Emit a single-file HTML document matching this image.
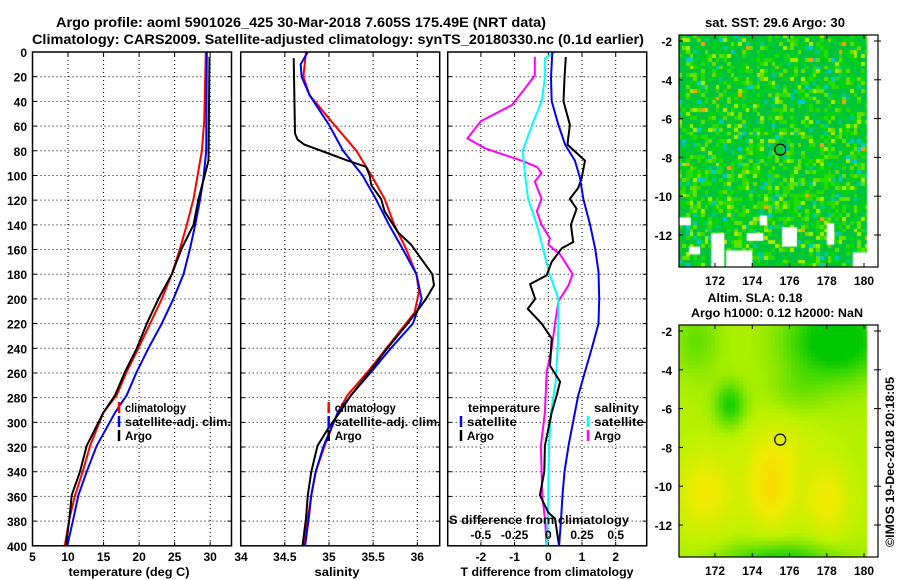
<!DOCTYPE html>
<html><head><meta charset="utf-8"><style>
html,body{margin:0;padding:0;background:#fff;}
#wrap{position:relative;width:900px;height:580px;overflow:hidden;font-family:"Liberation Sans",sans-serif;}
canvas{position:absolute;}
svg{position:absolute;left:0;top:0;}
svg text{font-family:"Liberation Sans",sans-serif;font-weight:bold;fill:#000;}
</style></head><body>
<div id="wrap">
<canvas id="sst" width="199" height="232" style="left:679px;top:35px"></canvas>
<canvas id="sla" width="199" height="232" style="left:679px;top:325px"></canvas>
<svg id="svg" width="900" height="580"></svg>
</div>
<script>
// ---------- data ----------
const tClimDepth=[0,56,80,119,140,159,180,200,220,240,259,278,292,319,340,359,378,400];
const tClimVal=[29.39,29.16,28.83,27.65,26.71,25.77,24.6,23.2,21.55,19.9,18.26,16.85,14.98,13.1,12.07,10.99,10.19,9.53];
const tSatDepth=[0,80,102,119,140,159,180,200,220,240,259,278,292,319,340,359,378,400];
const tSatVal=[29.53,29.44,29.06,28.59,27.89,27.18,26.24,24.83,23.2,21.31,19.67,18.26,16.62,14.04,12.63,11.46,10.75,9.9];
const tArgoDepth=[4,88,102,119,140,159,180,200,220,240,259,278,292,319,340,359,378,400];
const tArgoVal=[29.9,29.76,29.15,28.36,27.65,26.0,24.6,22.72,21.08,19.67,18.03,16.62,14.98,12.63,11.69,10.52,10.19,9.72];

const sClimDepth=[0,20,35,59,80,100,119,140,159,180,194,211,220,240,259,278,292,319,340,359,378,400];
const sClimVal=[34.74,34.71,34.78,35.06,35.31,35.48,35.63,35.74,35.87,35.99,36.02,35.97,35.87,35.65,35.44,35.21,35.10,34.95,34.85,34.80,34.76,34.72];
const sSatDepth=[0,10,20,35,59,80,100,119,140,159,180,200,220,240,259,278,292,319,340,359,378,400];
const sSatVal=[34.76,34.68,34.69,34.78,35.0,35.16,35.38,35.53,35.68,35.83,35.99,36.05,35.95,35.70,35.48,35.25,35.10,34.94,34.85,34.80,34.77,34.73];
const sArgoDepth=[5,66,71,75,81,88,93,100,108,119,129,146,156,167,180,189,200,220,240,259,278,292,305,319,340,359,378,400];
const sArgoVal=[34.60,34.615,34.645,34.72,34.95,35.21,35.42,35.46,35.48,35.59,35.63,35.78,35.93,36.04,36.17,36.19,36.10,35.89,35.66,35.46,35.25,35.12,34.99,34.87,34.80,34.76,34.74,34.70];

const dTSatDepth=[0,21,40,59,75,88,102,119,140,159,178,200,220,240,259,278,292,319,340,359,378,400];
const dTSatVal=[0.12,0.08,0.10,0.30,0.50,0.79,0.94,1.04,1.24,1.39,1.49,1.51,1.49,1.29,1.09,0.89,0.79,0.60,0.48,0.42,0.38,0.32];
const dTArgoDepth=[4,21,40,59,70,75,88,102,110,119,127,140,154,159,170,181,188,200,208,220,232,254,267,278,292,319,340,359,373,378,400];
const dTArgoVal=[0.52,0.48,0.45,0.64,0.59,0.57,1.09,0.99,0.89,0.64,0.84,0.67,0.74,0.40,0.10,-0.05,-0.54,-0.39,-0.61,-0.20,0.10,0.05,0.35,0.25,0.10,-0.10,-0.12,-0.25,0.00,0.20,0.32];
const dSSatDepth=[0,5,21,40,59,80,102,119,140,159,180,200,220,240,267,292,319,359,400];
const dSSatVal=[0.05,-0.025,-0.025,-0.05,-0.12,-0.19,-0.17,-0.15,-0.085,-0.04,0.01,0.075,0.075,0.07,0.055,0.02,0.005,0,-0.01];
const dSArgoDepth=[4,19,29,43,56,70,78,88,93,98,105,119,129,140,151,156,164,180,189,202,220,240,259,292,319,359,378,400];
const dSArgoVal=[-0.10,-0.10,-0.17,-0.27,-0.50,-0.60,-0.47,-0.20,-0.085,-0.05,-0.10,-0.05,-0.085,-0.05,0.012,0,0.088,0.18,0.15,0.075,0.05,0.025,-0.012,-0.025,-0.055,-0.045,-0.025,-0.012];

const depthTicks=[0,20,40,60,80,100,120,140,160,180,200,220,240,260,280,300,320,340,360,380,400];
const tTicks=[5,10,15,20,25,30];
const sTicks=[34,34.5,35,35.5,36];
const dTTicks=[-2,-1,0,1,2];
const dSTicks=[-0.5,-0.25,0,0.25,0.5];
const dSTickLabels=["-0.5","-0.25","0","0.25","0.5"];
const latTicks=[-2,-4,-6,-8,-10,-12];
const lonTicks=[172,174,176,178,180];
const argoLon=175.5, argoLat=-7.6;

// ---------- helpers ----------
const NS="http://www.w3.org/2000/svg";
const svg=document.getElementById('svg');
function el(tag,attrs,parent){const e=document.createElementNS(NS,tag);for(const k in attrs)e.setAttribute(k,attrs[k]);(parent||svg).appendChild(e);return e;}
function txt(s,x,y,size,anchor,parent,len){const t=el('text',{x:x,y:y,'font-size':size,'text-anchor':anchor||'start'},parent);if(len){t.setAttribute('textLength',len);t.setAttribute('lengthAdjust','spacingAndGlyphs');}t.textContent=s;return t;}
const yD=d=>52+d*1.2345;
const YB=yD(400);

function panel(name,x0,x1,scale,gridVals){
  const g=el('g',{});
  
  
  gridVals.forEach(v=>{const x=scale(v);el('line',{x1:x,y1:52,x2:x,y2:YB,stroke:'#000','stroke-width':1,'stroke-dasharray':'1,3'},g);});
  depthTicks.slice(1,-1).forEach(d=>{el('line',{x1:x0,y1:yD(d),x2:x1,y2:yD(d),stroke:'#000','stroke-width':1,'stroke-dasharray':'1,3'},g);
    el('line',{x1:x0,y1:yD(d),x2:x0+4,y2:yD(d),stroke:'#000'},g);el('line',{x1:x1-4,y1:yD(d),x2:x1,y2:yD(d),stroke:'#000'},g);});
  gridVals.forEach(v=>{const x=scale(v);el('line',{x1:x,y1:52,x2:x,y2:56,stroke:'#000'},g);el('line',{x1:x,y1:YB-4,x2:x,y2:YB,stroke:'#000'},g);});
  return g;
}
function frame(name,x0,x1){const r=el('rect',{x:x0,y:52,width:x1-x0,height:YB-52,fill:'none',stroke:'#000','stroke-width':1.5});}
function series(name,depths,vals,scale,color,w){
  const pts=depths.map((d,i)=>scale(vals[i]).toFixed(1)+','+yD(d).toFixed(1)).join(' ');
  const p=el('polyline',{points:pts,fill:'none',stroke:color,'stroke-width':w||2,'stroke-linejoin':'round'});
  
  
}
function legendEntry(name,x,y,color,label,len){
  const g=el('g',{});
  
  
  if(color)el('line',{x1:x,y1:y-10,x2:x,y2:y+1,stroke:color,'stroke-width':2.5},g);
  txt(label,x+6,y,12,'start',g,len);
}

// titles
const t1=txt("Argo profile: aoml 5901026_425 30-Mar-2018 7.605S 175.49E (NRT data)",301,27,14,'middle',null,490);

const t2=txt("Climatology: CARS2009. Satellite-adjusted climatology: synTS_20180330.nc (0.1d earlier)",338,44,14,'middle',null,612);


// y tick labels
const yl=el('g',{});
depthTicks.forEach(d=>txt(String(d),27,yD(d)+5,12,'end',yl));

// Panel 1 temperature
const P1={x0:32.5,x1:231.5,lo:5,hi:33};
const xT=v=>P1.x0+(v-P1.lo)/(P1.hi-P1.lo)*(P1.x1-P1.x0);
panel('temperature-panel-grid',P1.x0,P1.x1,xT,[10,15,20,25,30]);
series('temp-climatology-line',tClimDepth,tClimVal,xT,'#f00');
series('temp-satellite-adj-line',tSatDepth,tSatVal,xT,'#00f');
series('temp-argo-line',tArgoDepth,tArgoVal,xT,'#000');
frame('temperature-panel-frame',P1.x0,P1.x1);
const xl1=el('g',{});
tTicks.forEach(v=>txt(String(v),xT(v),561,12,'middle',xl1));
const xt1=txt("temperature (deg C)",129,576,12,'middle',null,121);
legendEntry('legend-climatology',119,412,'#f00','climatology',61);
legendEntry('legend-satellite-adj-clim',119,426,'#00f','satellite-adj. clim.',106);
legendEntry('legend-argo',119,440,'#000','Argo',27);

// Panel 2 salinity
const P2={x0:240.7,x1:439.7,lo:34,hi:36.254};
const xS=v=>P2.x0+(v-P2.lo)/(P2.hi-P2.lo)*(P2.x1-P2.x0);
panel('salinity-panel-grid',P2.x0,P2.x1,xS,[34.5,35,35.5,36]);
series('sal-climatology-line',sClimDepth,sClimVal,xS,'#f00');
series('sal-satellite-adj-line',sSatDepth,sSatVal,xS,'#00f');
series('sal-argo-line',sArgoDepth,sArgoVal,xS,'#000');
frame('salinity-panel-frame',P2.x0,P2.x1);
const xl2=el('g',{});
sTicks.forEach(v=>txt(String(v),v===34?241:xS(v),561,12,'middle',xl2));
const xt2=txt("salinity",337,576,12,'middle',null,45);
legendEntry('legend-sal-climatology',328.7,412,'#f00','climatology',61);
legendEntry('legend-sal-satellite-adj-clim',328.7,426,'#00f','satellite-adj. clim.',106);
legendEntry('legend-sal-argo',328.7,440,'#000','Argo',27);

// Panel 3 differences
const P3={x0:447.7,x1:646.7,c:548.3,k:33.7};
const xDT=v=>P3.c+v*P3.k;
const xDS=v=>P3.c+v*4*P3.k;
panel('difference-panel-grid',P3.x0,P3.x1,xDT,[-2,-1,0,1,2]);
series('dS-argo-line',dSArgoDepth,dSArgoVal,xDS,'#f0f');
series('dS-satellite-line',dSSatDepth,dSSatVal,xDS,'#0ff');
series('dT-argo-line',dTArgoDepth,dTArgoVal,xDT,'#000');
series('dT-satellite-line',dTSatDepth,dTSatVal,xDT,'#00f');
frame('difference-panel-frame',P3.x0,P3.x1);
const xl3=el('g',{});
dTTicks.forEach(v=>txt(String(v),xDT(v),561,12,'middle',xl3));
const xt3=txt("T difference from climatology",547,576,12,'middle',null,173);
const sl=el('g',{});
txt("S difference from climatology",449,524,12,'start',sl,180);
dSTicks.forEach((v,i)=>txt(dSTickLabels[i],xDS(v),539,12,'middle',sl));
legendEntry('legend-temperature-header',462,412,null,'temperature',72);
legendEntry('legend-dT-satellite',461,426,'#00f','satellite',50);
legendEntry('legend-dT-argo',461,440,'#000','Argo',27);
legendEntry('legend-salinity-header',588,412,null,'salinity',45);
legendEntry('legend-dS-satellite',588,426,'#0ff','satellite',50);
legendEntry('legend-dS-argo',588,440,'#f0f','Argo',27);

// ---------- maps ----------
const M={x0:679,x1:878,lon0:170.07,lonK:18.625,latK:19.4};
const mx=lon=>715+(lon-172)*M.lonK;
function mapAxes(name,top,lat2y){
  const g=el('g',{});
  el('rect',{x:M.x0,y:top,width:M.x1-M.x0,height:232,fill:'none',stroke:'#000','stroke-width':1.2},g);
  latTicks.forEach(l=>{const y=lat2y(l);txt(String(l),672,y+5,12,'end',g);
    el('line',{x1:M.x0,y1:y,x2:M.x0+4,y2:y,stroke:'#000'},g);el('line',{x1:M.x1-4,y1:y,x2:M.x1+3,y2:y,stroke:'#000'},g);});
  lonTicks.forEach(l=>{const x=mx(l);txt(String(l),x,top+250,12,'middle',g);
    el('line',{x1:x,y1:top,x2:x,y2:top+4,stroke:'#000'},g);el('line',{x1:x,y1:top+232-4,x2:x,y2:top+232,stroke:'#000'},g);});
  const y=lat2y(argoLat);
  el('circle',{cx:mx(argoLon),cy:y,r:5.5,fill:'none',stroke:'#000','stroke-width':1.2},g);
  return g;
}
const y1=lat=>41+(-2-lat)*M.latK;
const y2=lat=>331+(-2-lat)*M.latK;
mapAxes('sst-map-axes',35,y1);
mapAxes('sla-map-axes',325,y2);
const mt1=txt("sat. SST: 29.6 Argo: 30",775,27,13,'middle',null,140);
const mt2=txt("Altim. SLA: 0.18",755,302,12,'middle',null,95);
const mt3=txt("Argo h1000: 0.12 h2000: NaN",777,317,12,'middle',null,172);
const cp=txt("\u00a9IMOS 19-Dec-2018 20:18:05",0,0,12,'middle',null,170);
cp.setAttribute('transform','translate(894,462) rotate(-90)');


// SST raster
(function(){
  const c=document.getElementById('sst').getContext('2d');
  const W=188;
  function h(i,j){let n=i*374761393+j*668265263;n=(n^(n>>>13))*1274126177;n=n^(n>>>16);return ((n>>>0)%10000)/10000;}
  const pal=[[0,195,60],[0,210,20],[40,220,0],[100,225,0],[170,235,0],[0,200,150],[0,200,220],[255,160,0]];
  const cw=3.725,ch=3.88;
  for(let j=0;j<60;j++)for(let i=0;i<51;i++){
    const r=h(i,j);let k;
    const mid=(j>25&&j<50)?0.1:0;
    if(r<0.5-mid)k=0;else if(r<0.7-mid)k=1;else if(r<0.8)k=2;else if(r<0.89)k=3;else if(r<0.945)k=4;else if(r<0.975)k=5;else if(r<0.993)k=6;else k=7;
    c.fillStyle='rgb('+pal[k].join(',')+')';
    c.fillRect(Math.floor(i*cw),Math.floor(j*ch),Math.ceil(cw),Math.ceil(ch));
  }
  c.fillStyle='#fff';c.fillRect(W,0,199-W,232);
  const holes=[[170.07,-11.1,170.7,-11.5],[171.8,-11.9,172.5,-13.7],[172.6,-12.8,174,-13.7],[175.6,-11.6,176.4,-12.6],[178.0,-11.4,178.4,-12.5],[179.4,-12.9,180.2,-13.7],[173.7,-11.9,174.6,-12.3],[170.6,-12.6,171.2,-13.0],[174.4,-11.0,174.8,-11.5]];
  holes.forEach(b=>{const xa=mx(b[0])-679,xb=mx(b[2])-679,ya=y1(b[1])-35,yb=y1(b[3])-35;c.fillRect(xa,ya,xb-xa,yb-ya);});
})();
// SLA raster
(function(){
  const c=document.getElementById('sla').getContext('2d');
  const blobs=[[171.5,-10.3,1.5,2.0,0.3],[175,-10.2,1.3,2.0,0.38],[178,-10.7,1.2,1.8,0.3],[175.5,-8,2,1.5,0.15],
    [178.5,-2.5,2.6,2.0,-0.6],[172.8,-5.8,0.8,1.1,-0.4],[175.5,-13.8,3,0.9,-0.4],[171,-2.5,1.2,1.8,-0.2],[176.5,-5,1.5,1.2,-0.12]];
  const stops=[[0,200,0],[90,222,0],[190,242,0],[240,235,0],[255,205,0]];
  function col(v){v=Math.max(0,Math.min(0.999,v));const f=v*4,i=Math.floor(f),t=f-i;const a=stops[i],b=stops[i+1];return 'rgb('+a.map((x,k)=>Math.round(x+(b[k]-x)*t)).join(',')+')';}
  for(let py=0;py<232;py+=4)for(let px=0;px<188;px+=4){
    const lon=172+(px+679+2-715)/M.lonK,lat=-2-(py+325+2-331)/M.latK;
    let v=0.47;blobs.forEach(b=>{const dx=(lon-b[0])/b[2],dy=(lat-b[1])/b[3];v+=b[4]*Math.exp(-(dx*dx+dy*dy));});
    c.fillStyle=col(v);c.fillRect(px,py,4,4);
  }
  c.fillStyle='#fff';c.fillRect(188,0,11,232);
})();
</script>
</body></html>
